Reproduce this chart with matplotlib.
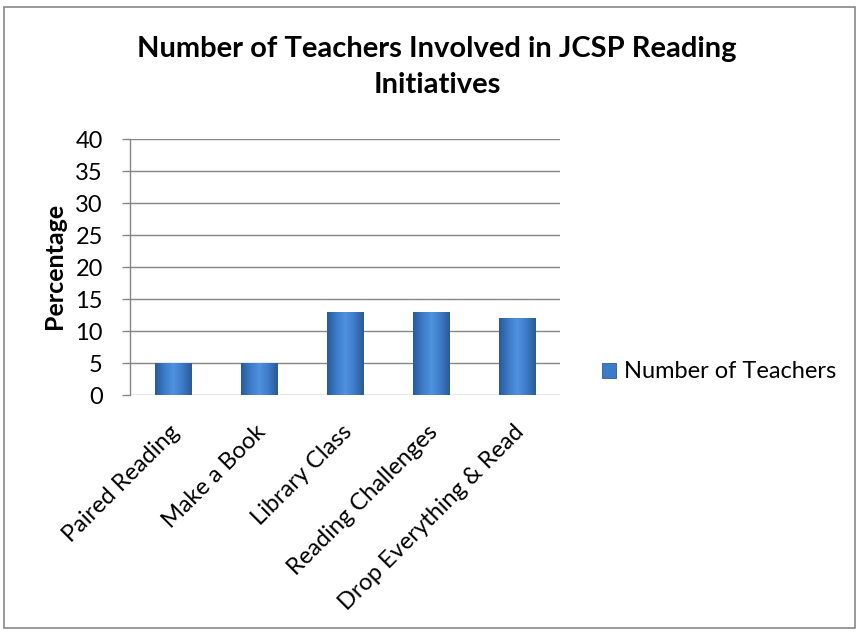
import numpy as np
import matplotlib
matplotlib.use("Agg")
import matplotlib.pyplot as plt
from matplotlib.patches import Patch, Rectangle
from matplotlib.colors import LinearSegmentedColormap
from matplotlib.transforms import ScaledTranslation

plt.rcParams['font.family'] = ['Lato', 'DejaVu Sans']

# data
categories = ["Paired Reading", "Make a Book", "Library Class",
              "Reading Challenges", "Drop Everything & Read"]
teachers = [5, 5, 13, 13, 12]
y_ticks = [0, 5, 10, 15, 20, 25, 30, 35, 40]
series_name = "Number of Teachers"

W, H = 859, 632
fig = plt.figure(figsize=(W / 100, H / 100), dpi=100)
ax = fig.add_axes([130 / W, 1 - 395 / H, 430 / W, 256 / H])

x = np.arange(len(categories))
bars = ax.bar(x, teachers, width=0.42, color="#3C7BC8",
              edgecolor="#2B5A94", linewidth=0.6, zorder=3)

# horizontal shading to mimic the bevelled Excel bars
shade = LinearSegmentedColormap.from_list(
    "shade", ["#2A5A97", "#3C7BC8", "#4F92DE", "#3C7BC8", "#2A5A97"])
grad = np.linspace(0, 1, 64).reshape(1, -1)
for b in bars:
    x0, y0 = b.get_x(), b.get_y()
    im = ax.imshow(grad, cmap=shade, aspect="auto", zorder=3.5,
                   extent=[x0, x0 + b.get_width(), y0, y0 + b.get_height()])
    im.set_clip_path(b)

ax.set_xlim(-0.5, len(categories) - 0.5)
ax.set_ylim(0, 40)
ax.set_yticks(y_ticks)
ax.set_xticks(x)
ax.set_xticklabels(categories, rotation=45, ha="right", va="top",
                   rotation_mode="anchor")

grid_c = "#868686"
ax.yaxis.grid(True, color=grid_c, linewidth=1.0, zorder=1)
for s in ["top", "right", "bottom"]:
    ax.spines[s].set_visible(False)
ax.spines["left"].set_color(grid_c)
ax.spines["left"].set_linewidth(1.0)
ax.tick_params(axis="y", length=6, width=1.0, color=grid_c, pad=13.5,
               labelsize=17, labelcolor="black")
ax.tick_params(axis="x", length=0, pad=19, labelsize=17, labelcolor="black")
ax.set_axisbelow(True)

# nudge rotated labels so their ends sit over the ticks
shift = ScaledTranslation(-4 / 100, 0, fig.dpi_scale_trans)
for lab in ax.get_xticklabels():
    lab.set_transform(lab.get_transform() + shift)

# titles as figure text
fig.text(437 / W, 1 - 57 / H, "Number of Teachers Involved in JCSP Reading",
         ha="center", va="baseline", fontsize=21, fontweight="bold")
fig.text(437 / W, 1 - 93 / H, "Initiatives",
         ha="center", va="baseline", fontsize=21, fontweight="bold")
fig.text(55 / W, 1 - 266 / H, "Percentage", rotation=90, ha="center",
         va="center", fontsize=18, fontweight="bold")

handle = Patch(facecolor="#3C7BC8", edgecolor="#2B5A94", linewidth=0.6)
fig.legend([handle], [series_name], loc="center left",
           bbox_to_anchor=(602 / W, 1 - 372 / H), frameon=False,
           fontsize=17, handlelength=0.6, handleheight=0.6,
           handletextpad=0.35, borderpad=0, borderaxespad=0)

# chart area border
fig.patches.append(Rectangle((4 / W, 1 - 628 / H), 851 / W, 621 / H,
                             transform=fig.transFigure, fill=False,
                             edgecolor="#878787", linewidth=1.2))

fig.savefig("out.png", dpi=100)
